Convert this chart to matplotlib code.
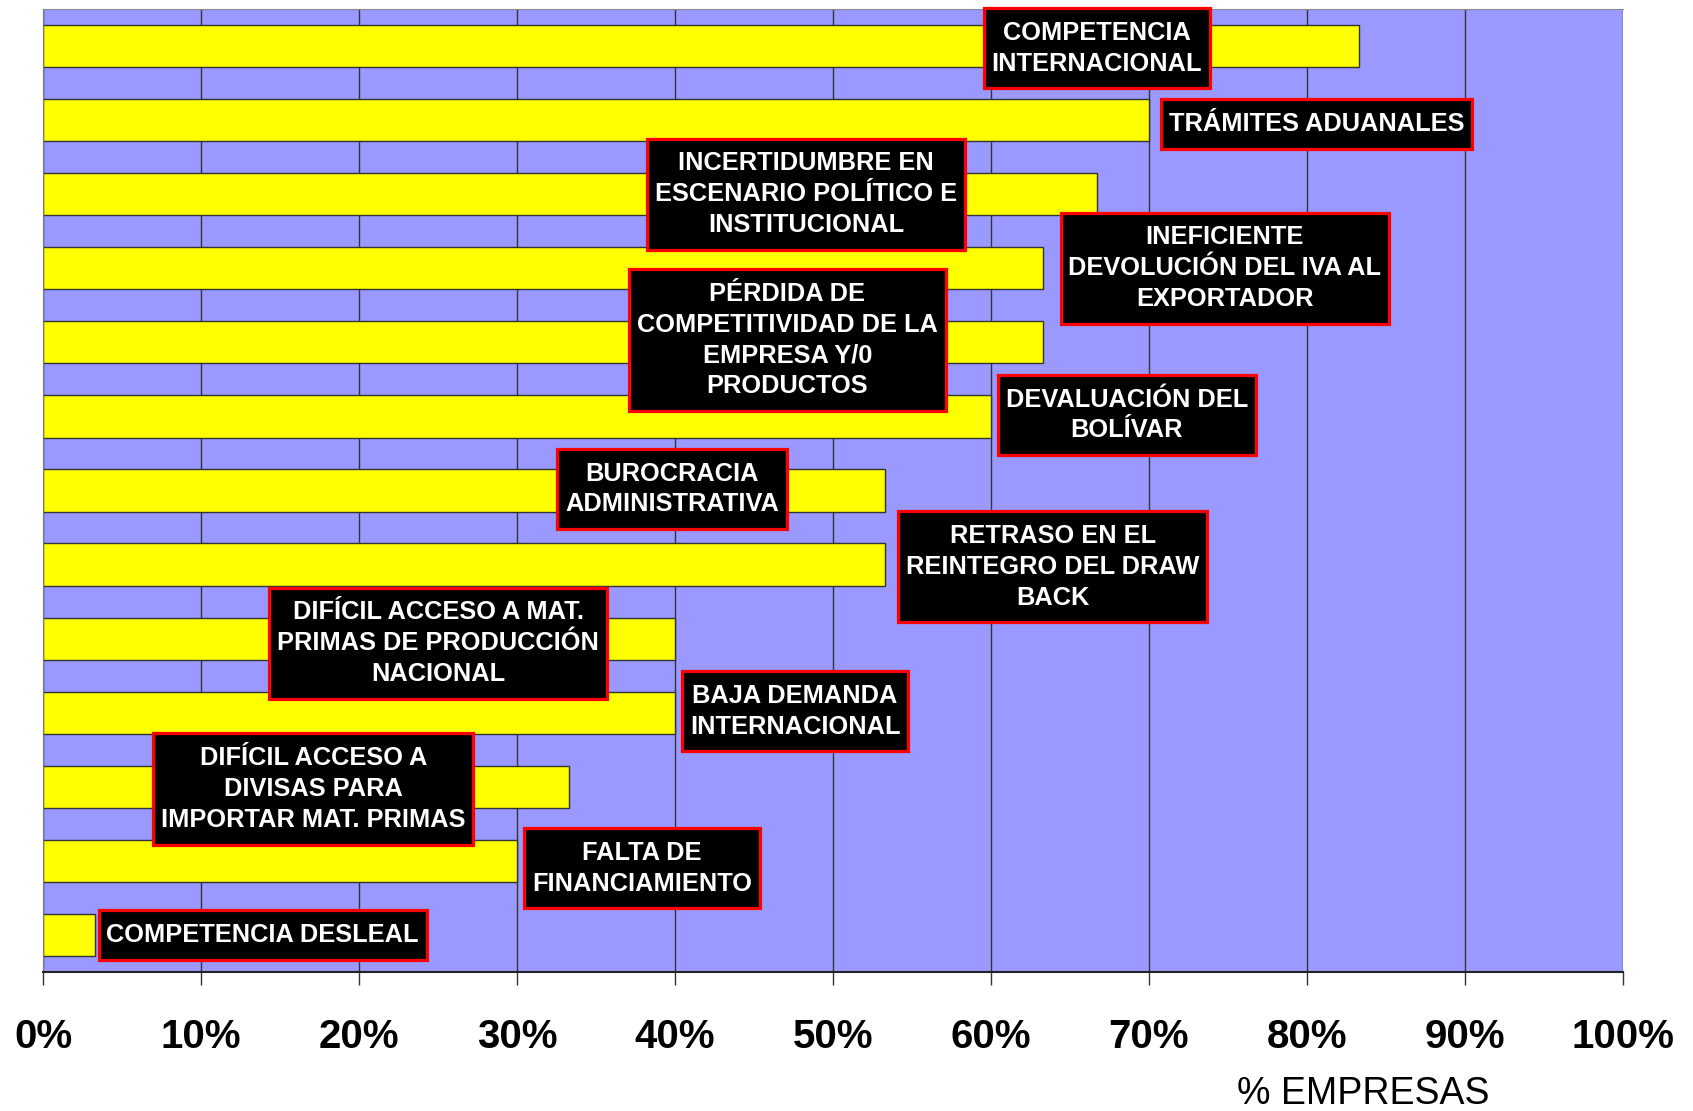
import matplotlib.pyplot as plt
from matplotlib.path import Path

# Obstáculos a la exportación (de arriba hacia abajo)
categorias = [
    "COMPETENCIA\nINTERNACIONAL",
    "TRÁMITES ADUANALES",
    "INCERTIDUMBRE EN\nESCENARIO POLÍTICO E\nINSTITUCIONAL",
    "INEFICIENTE\nDEVOLUCIÓN DEL IVA AL\nEXPORTADOR",
    "PÉRDIDA DE\nCOMPETITIVIDAD DE LA\nEMPRESA Y/0\nPRODUCTOS",
    "DEVALUACIÓN DEL\nBOLÍVAR",
    "BUROCRACIA\nADMINISTRATIVA",
    "RETRASO EN EL\nREINTEGRO DEL DRAW\nBACK",
    "DIFÍCIL ACCESO A MAT.\nPRIMAS DE PRODUCCIÓN\nNACIONAL",
    "BAJA DEMANDA\nINTERNACIONAL",
    "DIFÍCIL ACCESO A\nDIVISAS PARA\nIMPORTAR MAT. PRIMAS",
    "FALTA DE\nFINANCIAMIENTO",
    "COMPETENCIA DESLEAL",
]
valores = [83.3, 70.0, 66.7, 63.3, 63.3, 60.0, 53.3, 53.3, 40.0, 40.0, 33.3, 30.0, 3.3]
ticks = list(range(0, 101, 10))
tick_labels = [f"{t}%" for t in ticks]

# posición de los recuadros (centro en % y desplazamiento vertical)
label_x = [66.7, 80.6, 48.3, 74.8, 47.1, 68.6, 39.8, 63.9, 25.0, 47.6, 17.1, 37.9, 13.9]
label_dy = [0.03, 0.05, 0, 0, -0.03, -0.02, -0.02, 0.03, 0.06, -0.02, 0.03, 0.1, 0]


def caja(x0, y0, width, height, mutation_size):
    # recuadro con más margen vertical que horizontal
    px = 0.31 * mutation_size
    py = 0.5 * mutation_size
    x0, y0 = x0 - px, y0 - py
    x1, y1 = x0 + width + 2 * px, y0 + height + 2 * py
    return Path([(x0, y0), (x1, y0), (x1, y1), (x0, y1), (x0, y0)], closed=True)


plt.rcParams['font.family'] = ['Liberation Sans', 'DejaVu Sans']

fig = plt.figure(figsize=(16.93, 11.11), dpi=100)
ax = fig.add_axes([0.0254, 0.1251, 0.9333, 0.8668])
ax.set_facecolor('#9999FF')

y = list(range(len(valores)))
ax.barh(y, valores, height=0.57, color='#FFFF00', edgecolor='#333333', linewidth=1, zorder=2)

for i, texto in enumerate(categorias):
    ax.text(label_x[i], i + label_dy[i], texto, ha='center', va='center',
            multialignment='center', color='white', fontsize=18.3, fontweight='bold',
            linespacing=1.36, zorder=5,
            bbox=dict(boxstyle=caja, facecolor='black',
                      edgecolor='#FF0000', linewidth=2.3))

ax.set_xlim(0, 100)
ax.set_ylim(len(valores) - 0.5, -0.5)
ax.set_xticks(ticks)
ax.set_xticklabels(tick_labels, fontsize=29, fontweight='bold')
ax.tick_params(axis='x', direction='out', length=9, width=1, color='#333333', pad=24)
ax.set_yticks([])

ax.set_axisbelow(True)
ax.xaxis.grid(True, color='#333333', linewidth=1)

ax.spines['right'].set_visible(False)
ax.spines['top'].set_color('#888888')
ax.spines['left'].set_color('#777777')
ax.spines['bottom'].set_color('#222222')
ax.spines['bottom'].set_linewidth(1.5)

fig.text(0.805, 0.0153, "% EMPRESAS", fontsize=27, ha='center', va='center')

fig.savefig('out.png', dpi=100)
